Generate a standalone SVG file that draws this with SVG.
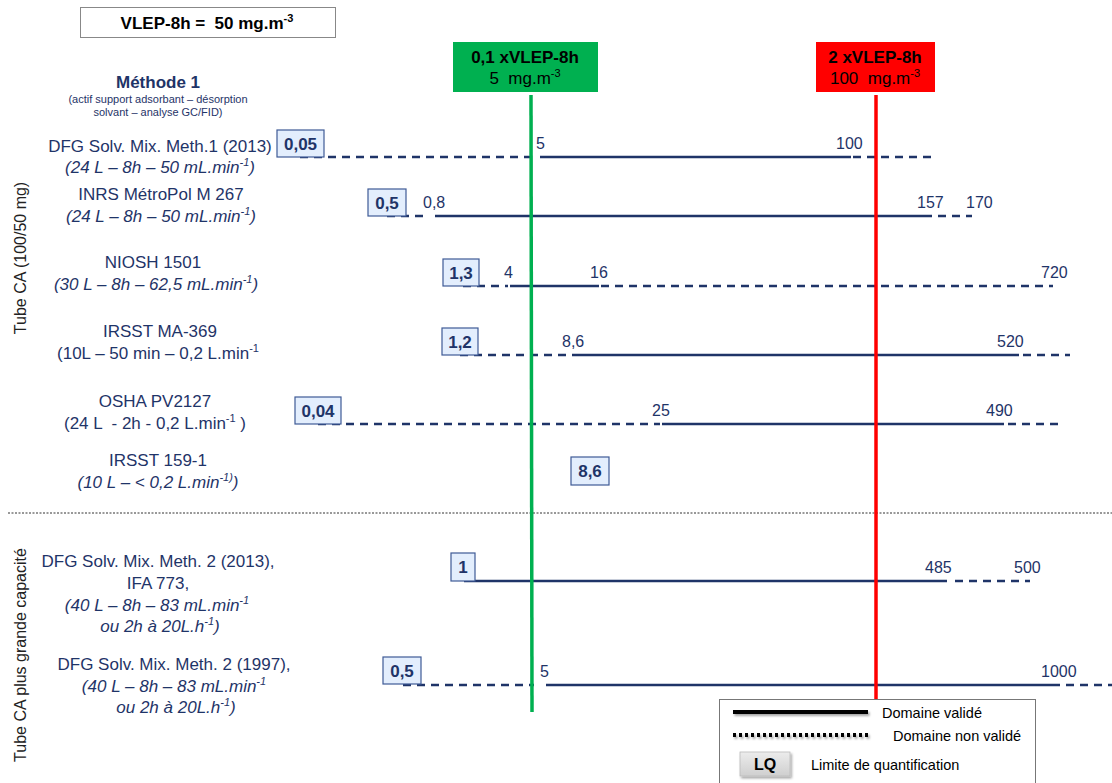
<svg xmlns="http://www.w3.org/2000/svg" width="1112" height="783" viewBox="0 0 1112 783">
<defs>
<linearGradient id="lqg" x1="0" y1="0" x2="0" y2="1"><stop offset="0" stop-color="#ECECEC"/><stop offset="1" stop-color="#CFCFCF"/></linearGradient>
<filter id="sh" filterUnits="userSpaceOnUse" x="700" y="690" width="420" height="100"><feDropShadow dx="1.5" dy="2" stdDeviation="1" flood-color="#000" flood-opacity="0.35"/></filter>
</defs>
<style>
text{font-family:"Liberation Sans",Arial,sans-serif;}
.lbl{fill:#1F3468;font-size:17px;text-anchor:middle;}
.it{font-style:italic;}
.val{fill:#1F3468;font-size:16px;}
.lqb{fill:#E3EEFD;stroke:#3E5A96;stroke-width:1.2;}
.lqt{fill:#1F3468;font-size:17px;font-weight:bold;text-anchor:middle;}
.sol{stroke:#1F3468;stroke-width:2.5;fill:none;}
.dash{stroke:#1F3468;stroke-width:2.5;fill:none;stroke-dasharray:8 6;}
.side{fill:#222;font-size:16px;text-anchor:middle;}
.lg{fill:#000;font-size:14.5px;}
</style>
<rect width="1112" height="783" fill="#fff"/>

<g id="vlep">
<rect x="80.5" y="7.5" width="255" height="30" fill="#fff" stroke="#888" stroke-width="1"/>
<text x="207" y="29" font-size="17" font-weight="bold" text-anchor="middle" fill="#000" xml:space="preserve">VLEP-8h =  50 mg.m<tspan font-size="11" dy="-7">-3</tspan></text>
</g>

<g id="seuil-bas">
<rect x="453" y="42" width="145" height="50" fill="#00B050"/>
<text x="525" y="63" font-size="17" font-weight="bold" text-anchor="middle" fill="#000">0,1 xVLEP-8h</text>
<text x="525" y="84" font-size="17" text-anchor="middle" fill="#000" xml:space="preserve">5  mg.m<tspan font-size="11" dy="-7">-3</tspan></text>
</g>
<g id="seuil-haut">
<rect x="816" y="42" width="119" height="50" fill="#FF0000"/>
<text x="875" y="63" font-size="17" font-weight="bold" text-anchor="middle" fill="#000">2 xVLEP-8h</text>
<text x="875" y="84" font-size="17" text-anchor="middle" fill="#000" xml:space="preserve">100  mg.m<tspan font-size="11" dy="-7">-3</tspan></text>
</g>

<g id="sides">
<text class="side" transform="translate(26,258) rotate(-90)">Tube CA (100/50 mg)</text>
<text class="side" transform="translate(26,655) rotate(-90)">Tube CA plus grande capacité</text>
<line x1="8" y1="513" x2="1112" y2="513" stroke="#333" stroke-width="1" stroke-dasharray="2 1.5"/>
</g>

<g id="methode">
<text class="lbl" x="158" y="88" font-weight="bold">Méthode 1</text>
<text class="lbl" x="158" y="103" style="font-size:11px">(actif support adsorbant – désorption</text>
<text class="lbl" x="158" y="116" style="font-size:11px">solvant – analyse GC/FID)</text>
</g>

<g id="connectors">
<line class="dash" x1="300" y1="157" x2="538" y2="157"/>
<line class="sol" x1="540" y1="157" x2="851" y2="157"/>
<line class="dash" x1="853" y1="157" x2="932" y2="157"/>
<line class="dash" x1="387" y1="216" x2="424" y2="216"/>
<line class="sol" x1="435" y1="216" x2="932" y2="216"/>
<line class="dash" x1="938" y1="216" x2="972" y2="216"/>
<line class="dash" x1="463" y1="286" x2="508" y2="286"/>
<line class="sol" x1="510" y1="286" x2="599" y2="286"/>
<line class="dash" x1="601" y1="286" x2="1053" y2="286"/>
<line class="dash" x1="460" y1="355" x2="568" y2="355"/>
<line class="sol" x1="572" y1="355" x2="1019" y2="355"/>
<line class="dash" x1="1023" y1="355" x2="1070" y2="355"/>
<line class="dash" x1="318" y1="424" x2="660" y2="424"/>
<line class="sol" x1="662" y1="424" x2="1004" y2="424"/>
<line class="dash" x1="1008" y1="424" x2="1058" y2="424"/>
<line class="sol" x1="464" y1="581" x2="947" y2="581"/>
<line class="dash" x1="955" y1="581" x2="1030" y2="581"/>
<line class="dash" x1="403" y1="685" x2="534" y2="685"/>
<line class="sol" x1="546" y1="685" x2="1060" y2="685"/>
<line class="dash" x1="1066" y1="685" x2="1112" y2="685"/>
<line x1="531" y1="95" x2="532" y2="712" stroke="#00B050" stroke-width="3.5"/>
<line x1="876" y1="95" x2="876" y2="700" stroke="#FF0000" stroke-width="3.5"/>
</g>

<g id="row1">
<text class="lbl" x="160" y="152">DFG Solv. Mix. Meth.1 (2013)</text>
<text class="lbl it" x="160" y="173">(24 L – 8h – 50 mL.min<tspan font-size="11" dy="-7">-1</tspan><tspan dy="7">)</tspan></text>
<rect class="lqb" x="277" y="130" width="47" height="27"/>
<text class="lqt" x="300.5" y="150">0,05</text>
<text class="val" x="536" y="149">5</text>
<text class="val" x="836" y="149">100</text>
</g>
<g id="row2">
<text class="lbl" x="161" y="200">INRS MétroPol M 267</text>
<text class="lbl it" x="161" y="222">(24 L – 8h – 50 mL.min<tspan font-size="11" dy="-7">-1</tspan><tspan dy="7">)</tspan></text>
<rect class="lqb" x="368" y="189" width="38" height="27"/>
<text class="lqt" x="387" y="209">0,5</text>
<text class="val" x="423" y="208">0,8</text>
<text class="val" x="917" y="208">157</text>
<text class="val" x="966" y="208">170</text>
</g>
<g id="row3">
<text class="lbl" x="153" y="268">NIOSH 1501</text>
<text class="lbl it" x="156" y="290">(30 L – 8h – 62,5 mL.min<tspan font-size="11" dy="-7">-1</tspan><tspan dy="7">)</tspan></text>
<rect class="lqb" x="443" y="259" width="36" height="27"/>
<text class="lqt" x="461" y="279">1,3</text>
<text class="val" x="504" y="278">4</text>
<text class="val" x="590" y="278">16</text>
<text class="val" x="1041" y="278">720</text>
</g>
<g id="row4">
<text class="lbl" x="160" y="337">IRSST MA-369</text>
<text class="lbl" x="158" y="359">(10L – 50 min – 0,2 L.min<tspan font-size="11" dy="-7">-1</tspan></text>
<rect class="lqb" x="442" y="328" width="36" height="27"/>
<text class="lqt" x="460" y="348">1,2</text>
<text class="val" x="562" y="347">8,6</text>
<text class="val" x="997" y="347">520</text>
</g>
<g id="row5">
<text class="lbl" x="155" y="407">OSHA PV2127</text>
<text class="lbl" x="155" y="429" xml:space="preserve">(24 L  - 2h - 0,2 L.min<tspan font-size="11" dy="-7">-1</tspan><tspan dy="7"> )</tspan></text>
<rect class="lqb" x="295" y="397" width="46" height="27"/>
<text class="lqt" x="318" y="417">0,04</text>
<text class="val" x="652" y="416">25</text>
<text class="val" x="986" y="416">490</text>
</g>
<g id="row6">
<text class="lbl" x="158" y="466">IRSST 159-1</text>
<text class="lbl it" x="158" y="488">(10 L – &lt; 0,2 L.min<tspan font-size="11" dy="-7">-1)</tspan><tspan dy="7">)</tspan></text>
<rect class="lqb" x="571" y="457" width="38" height="28"/>
<text class="lqt" x="590" y="477">8,6</text>
</g>
<g id="row7">
<text class="lbl" x="158" y="567">DFG Solv. Mix. Meth. 2 (2013),</text>
<text class="lbl" x="158" y="589">IFA 773,</text>
<text class="lbl it" x="157" y="611">(40 L – 8h – 83 mL.min<tspan font-size="11" dy="-7">-1</tspan></text>
<text class="lbl it" x="160" y="632">ou 2h à 20L.h<tspan font-size="11" dy="-7">-1</tspan><tspan dy="7">)</tspan></text>
<rect class="lqb" x="451" y="553" width="24" height="28"/>
<text class="lqt" x="463" y="573">1</text>
<text class="val" x="925" y="573">485</text>
<text class="val" x="1014" y="573">500</text>
</g>
<g id="row8">
<text class="lbl" x="174" y="670">DFG Solv. Mix. Meth. 2 (1997),</text>
<text class="lbl it" x="174" y="692">(40 L – 8h – 83 mL.min<tspan font-size="11" dy="-7">-1</tspan></text>
<text class="lbl it" x="176" y="713">ou 2h à 20L.h<tspan font-size="11" dy="-7">-1</tspan><tspan dy="7">)</tspan></text>
<rect class="lqb" x="383" y="657" width="38" height="27"/>
<text class="lqt" x="402" y="677">0,5</text>
<text class="val" x="540" y="677">5</text>
<text class="val" x="1041" y="677">1000</text>
</g>

<g id="legend">
<rect x="719.5" y="699.5" width="316" height="95" fill="#fff" stroke="#777" stroke-width="1"/>
<line x1="733" y1="712" x2="868" y2="712" stroke="#000" stroke-width="4" filter="url(#sh)"/>
<text class="lg" x="882" y="718">Domaine validé</text>
<line x1="733" y1="735" x2="868" y2="735" stroke="#000" stroke-width="4" stroke-dasharray="3 3" filter="url(#sh)"/>
<text class="lg" x="893" y="741">Domaine non validé</text>
<rect x="740" y="752" width="50" height="24" fill="url(#lqg)" stroke="#BBB" stroke-width="0.8" filter="url(#sh)"/>
<text x="765" y="770" font-size="16" font-weight="bold" text-anchor="middle" fill="#000">LQ</text>
<text class="lg" x="811" y="770">Limite de quantification</text>
</g>
</svg>
